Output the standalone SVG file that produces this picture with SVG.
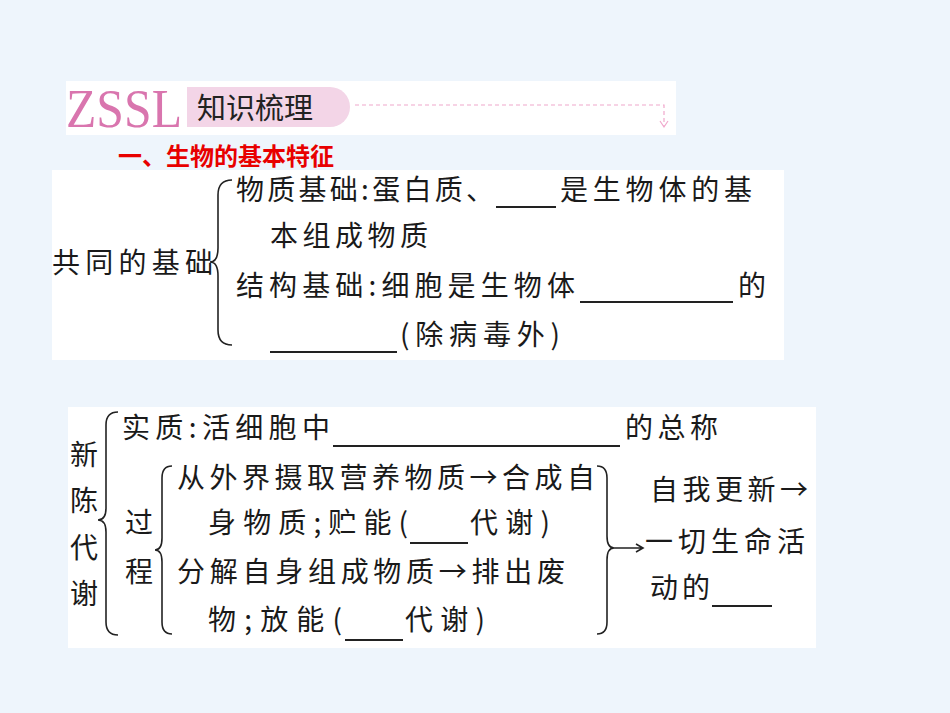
<svg xmlns="http://www.w3.org/2000/svg" width="950" height="713" viewBox="0 0 950 713">
<style>
.t{font-family:"Noto Sans CJK SC",serif;font-size:28px;fill:#1a1a1a}
.u{stroke:#222;stroke-width:2}
.b{fill:none;stroke:#222;stroke-width:1.6}
</style>
<rect width="950" height="713" fill="#EEF5FC"/>
<g id="header">
<rect x="66" y="81" width="610" height="54" fill="#fff"/>
<text x="66" y="127" font-family="Liberation Serif,serif" font-size="54" fill="#D975AE" textLength="116" lengthAdjust="spacingAndGlyphs">ZSSL</text>
<path d="M187 87 H330 A20 20 0 0 1 330 127 H187 Z" fill="#F3D5E7"/>
<text x="197" y="119" font-family="Noto Sans CJK SC,sans-serif" font-size="29" fill="#222">知识梳理</text>
<path d="M355 105 H664 V126" fill="none" stroke="#F0A8CC" stroke-width="1.2" stroke-dasharray="4 3"/>
<path d="M660 121 L664 127 L668 121" fill="none" stroke="#F0A8CC" stroke-width="1.2"/>
<text x="118" y="165" font-family="Noto Sans CJK SC,sans-serif" font-size="24" font-weight="bold" fill="#E80000">一、生物的基本特征</text>
</g>
<g id="panel1">
<rect x="52" y="170" width="732" height="190" fill="#fff"/>
<text class="t" x="52" y="273" textLength="161">共同的基础</text>
<path class="b" d="M232 180 Q218 180 218 195 V248 Q218 262 210 262 Q218 262 218 276 V330 Q218 345 232 345"/>
<text class="t" x="236" y="200" textLength="258">物质基础:蛋白质、</text>
<line class="u" x1="496" y1="207" x2="556" y2="207"/>
<text class="t" x="560" y="200" textLength="192">是生物体的基</text>
<text class="t" x="270" y="246" textLength="158">本组成物质</text>
<text class="t" x="236" y="296" textLength="339">结构基础:细胞是生物体</text>
<line class="u" x1="580" y1="302" x2="733" y2="302"/>
<text class="t" x="738" y="296">的</text>
<line class="u" x1="270" y1="352" x2="397" y2="352"/>
<text class="t" x="400" y="345" textLength="160">(除病毒外)</text>
</g>
<g id="panel2">
<rect x="68" y="407" width="748" height="241" fill="#fff"/>
<text class="t" x="70" y="465">新</text>
<text class="t" x="70" y="511">陈</text>
<text class="t" x="70" y="558">代</text>
<text class="t" x="70" y="604">谢</text>
<path class="b" d="M118 412 Q106 412 106 425 V508 Q106 520 98 520 Q106 520 106 532 V622 Q106 635 118 635"/>
<text class="t" x="122" y="438" textLength="208">实质:活细胞中</text>
<line class="u" x1="333" y1="446" x2="620" y2="446"/>
<text class="t" x="625" y="438" textLength="93">的总称</text>
<text class="t" x="125" y="533">过</text>
<text class="t" x="125" y="582">程</text>
<path class="b" d="M172 466 Q162 466 162 478 V538 Q162 550 155 550 Q162 550 162 562 V622 Q162 634 172 634"/>
<text class="t" x="177" y="488" textLength="418">从外界摄取营养物质→合成自</text>
<text class="t" x="208" y="533" textLength="200">身物质;贮能(</text>
<line class="u" x1="410" y1="543" x2="468" y2="543"/>
<text class="t" x="470" y="533" textLength="80">代谢)</text>
<text class="t" x="177" y="582" textLength="388">分解自身组成物质→排出废</text>
<text class="t" x="208" y="630" textLength="134">物;放能(</text>
<line class="u" x1="345" y1="640" x2="403" y2="640"/>
<text class="t" x="405" y="630" textLength="80">代谢)</text>
<path class="b" d="M597 466 Q607 466 607 478 V536 Q607 548 614 548 Q607 548 607 560 V622 Q607 634 597 634"/>
<g id="connectors"><path class="b" d="M614 548 H642 M636 544 L643 548 L636 552"/></g>
<text class="t" x="650" y="500" textLength="158">自我更新→</text>
<text class="t" x="645" y="552" textLength="160">一切生命活</text>
<text class="t" x="650" y="598" textLength="60">动的</text>
<line class="u" x1="712" y1="606" x2="772" y2="606"/>
</g>
</svg>
